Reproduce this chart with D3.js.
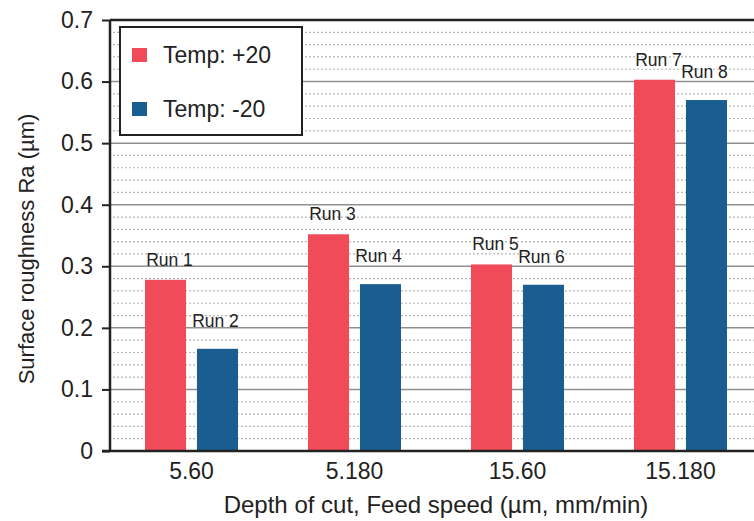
<!DOCTYPE html>
<html>
<head>
<meta charset="utf-8">
<script src="https://cdn.jsdelivr.net/npm/d3@7"></script>
<style>
  body { margin: 0; background: #fff; }
  text { font-family: "Liberation Sans", Arial, Helvetica, sans-serif; fill: #222; }
</style>
</head>
<body>
<div class="chart"></div>
<script>
var w = 754;
var h = 521;

// Data
var groups = ["5.60", "5.180", "15.60", "15.180"];
var seriesNames = ["Temp: +20", "Temp: -20"];
var plusTemp = [0.278, 0.352, 0.303, 0.603];
var minusTemp = [0.166, 0.271, 0.270, 0.570];
var runLabels = [["Run 1", "Run 3", "Run 5", "Run 7"], ["Run 2", "Run 4", "Run 6", "Run 8"]];
var yTicks = [0, 0.1, 0.2, 0.3, 0.4, 0.5, 0.6, 0.7];

var colors = ["#f14b5a", "#1a5d91"];

var margin = { top: 20, left: 110, bottom: 70 };
var plotRight = 762; // plot runs past the picture's right edge

var svg = d3.select(".chart")
    .append("svg")
    .attr("width", w)
    .attr("height", h);

var y = d3.scaleLinear()
    .domain([0, 0.7])
    .range([h - margin.bottom, margin.top]);

var x = d3.scaleBand()
    .domain(groups)
    .range([margin.left, plotRight]);

// series offset inside a group
var xs = d3.scaleBand()
    .domain([0, 1])
    .range([-46.5, 46.5])
    .paddingInner(0.21)
    .paddingOuter(0.0);

// minor dotted grid
var minor = d3.range(0, 0.7001, 0.02).filter(function (v) {
    return Math.abs(v * 10 - Math.round(v * 10)) > 0.01;
});
svg.append("g")
    .selectAll("line")
    .data(minor)
    .enter()
    .append("line")
    .attr("x1", margin.left + 3)
    .attr("x2", w)
    .attr("y1", d => y(d))
    .attr("y2", d => y(d))
    .attr("stroke", "#b5b5b5")
    .attr("stroke-width", 1.2)
    .attr("stroke-dasharray", "2,2");

// major grid
svg.append("g")
    .selectAll("line")
    .data(yTicks.slice(1, -1))
    .enter()
    .append("line")
    .attr("x1", margin.left)
    .attr("x2", w)
    .attr("y1", d => y(d))
    .attr("y2", d => y(d))
    .attr("stroke", "#8f8f8f")
    .attr("stroke-width", 1.5);

// bars
var series = [plusTemp, minusTemp];
series.forEach(function (vals, si) {
    svg.append("g")
        .selectAll("rect")
        .data(vals)
        .enter()
        .append("rect")
        .attr("x", (d, i) => x(groups[i]) + x.bandwidth() / 2 + xs(si))
        .attr("y", d => y(d))
        .attr("width", xs.bandwidth())
        .attr("height", d => y(0) - y(d))
        .attr("fill", colors[si]);

    // run labels above bars
    svg.append("g")
        .selectAll("text")
        .data(vals)
        .enter()
        .append("text")
        .attr("x", (d, i) => x(groups[i]) + x.bandwidth() / 2 + xs(si) + xs.bandwidth() / 2 + (si === 0 ? 4 : -2))
        .attr("y", d => y(d) - (si === 0 ? 14 : 22))
        .attr("text-anchor", "middle")
        .attr("font-size", "17.5px")
        .text((d, i) => runLabels[si][i]);
});

// frame: top line, left axis, bottom axis
svg.append("line")
    .attr("x1", margin.left).attr("x2", w)
    .attr("y1", y(0.7)).attr("y2", y(0.7))
    .attr("stroke", "#222").attr("stroke-width", 2.5);

var yAxis = d3.axisLeft(y)
    .tickValues(yTicks)
    .tickFormat(d => d === 0 ? "0" : d3.format(".1f")(d))
    .tickSize(8)
    .tickPadding(9);

var yG = svg.append("g")
    .attr("transform", "translate(" + margin.left + ",0)")
    .call(yAxis);
yG.select(".domain").attr("stroke", "#222").attr("stroke-width", 2.5)
    .attr("d", "M0," + y(0.7) + "V" + y(0));
yG.selectAll(".tick line").attr("stroke", "#222").attr("stroke-width", 2);
yG.selectAll(".tick text")
    .attr("font-size", "23px")
    .attr("font-family", "Liberation Sans, Arial, sans-serif")
    .attr("fill", "#222");

var xAxis = d3.axisBottom(x)
    .tickSize(0)
    .tickPadding(12);

var xG = svg.append("g")
    .attr("transform", "translate(0," + y(0) + ")")
    .call(xAxis);
xG.select(".domain").attr("stroke", "#222").attr("stroke-width", 2.5)
    .attr("d", "M" + (margin.left - 8) + ",0H" + w);
xG.selectAll(".tick text")
    .attr("font-size", "23px")
    .attr("font-family", "Liberation Sans, Arial, sans-serif")
    .attr("fill", "#222");

// axis titles
svg.append("text")
    .attr("x", (margin.left + plotRight) / 2)
    .attr("y", 513)
    .attr("text-anchor", "middle")
    .attr("font-size", "24px")
    .text("Depth of cut, Feed speed (\u00b5m, mm/min)");

svg.append("text")
    .attr("transform", "translate(34,249) rotate(-90)")
    .attr("text-anchor", "middle")
    .attr("font-size", "22px")
    .text("Surface roughness Ra (\u00b5m)");

// legend
var legend = svg.append("g").attr("transform", "translate(120,27)");
legend.append("rect")
    .attr("width", 182)
    .attr("height", 108)
    .attr("fill", "#fff")
    .attr("stroke", "#222")
    .attr("stroke-width", 2);

var items = legend.selectAll(".item")
    .data(seriesNames)
    .enter()
    .append("g")
    .attr("transform", (d, i) => "translate(12," + (21 + i * 54) + ")");
items.append("rect")
    .attr("width", 15)
    .attr("height", 14)
    .attr("fill", (d, i) => colors[i]);
items.append("text")
    .attr("x", 31)
    .attr("y", 15)
    .attr("font-size", "23px")
    .text(d => d);
</script>
</body>
</html>
